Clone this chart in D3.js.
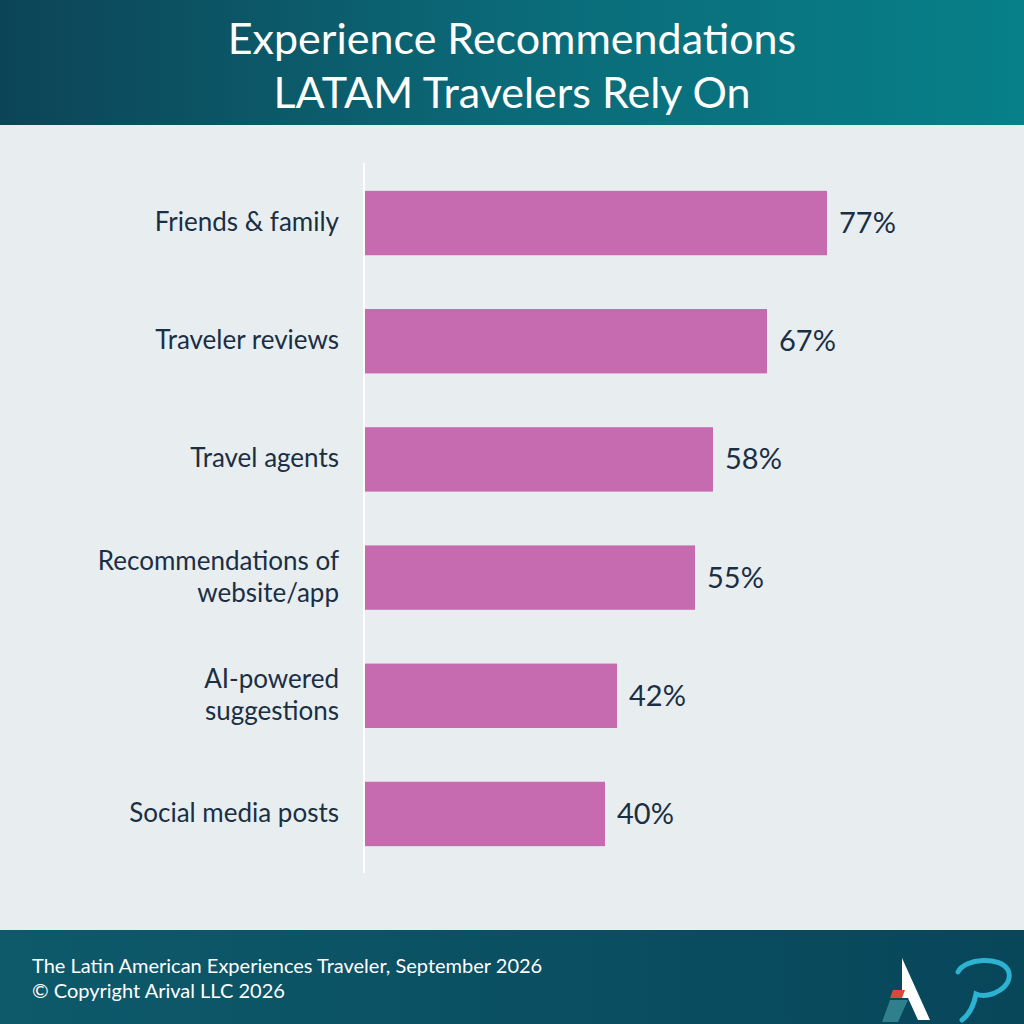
<!DOCTYPE html>
<meta charset="utf-8">
<style>
  body { margin: 0; }
  text { font-family: Lato, sans-serif; }
</style>
<body>
<script src="https://d3js.org/d3.v7.min.js"></script>
<script>
  // Data
  var categories = [["Friends & family"], ["Traveler reviews"], ["Travel agents"],
    ["Recommendations of", "website/app"], ["AI-powered", "suggestions"], ["Social media posts"]];
  var values = [77, 67, 58, 55, 42, 40];
  var titleLines = ["Experience Recommendations", "LATAM Travelers Rely On"];
  var footerLines = ["The Latin American Experiences Traveler, September 2026", "\u00a9 Copyright Arival LLC 2026"];

  var W = 1024, H = 1024;
  var svg = d3.select("body").append("svg").attr("width", W).attr("height", H);

  var defs = svg.append("defs");
  var grad = defs.append("linearGradient").attr("id", "hdr");
  grad.append("stop").attr("offset", "0%").attr("stop-color", "#0c4457");
  grad.append("stop").attr("offset", "50%").attr("stop-color", "#0b6a78");
  grad.append("stop").attr("offset", "100%").attr("stop-color", "#078088");
  var grad2 = defs.append("linearGradient").attr("id", "ftr");
  grad2.append("stop").attr("offset", "0%").attr("stop-color", "#0d5a6b");
  grad2.append("stop").attr("offset", "100%").attr("stop-color", "#08465a");

  svg.append("rect").attr("width", W).attr("height", H).attr("fill", "#e8eef0");
  svg.append("rect").attr("width", W).attr("height", 125).attr("fill", "url(#hdr)");
  svg.append("rect").attr("y", 930).attr("width", W).attr("height", 94).attr("fill", "url(#ftr)");

  svg.selectAll(".title").data(titleLines).enter().append("text")
    .attr("x", 512).attr("y", (d, i) => 54 + i * 54)
    .attr("text-anchor", "middle").attr("fill", "#fff").attr("font-size", 43)
    .text(d => d);

  var x = d3.scaleLinear().domain([0, 100]).range([365, 965]);
  var y = d3.scaleBand().domain(d3.range(values.length)).range([164, 873]).paddingInner(0.455).paddingOuter(0.227);

  svg.append("line").attr("x1", 364).attr("x2", 364).attr("y1", 163).attr("y2", 873)
    .attr("stroke", "#fff").attr("stroke-width", 2);

  svg.selectAll(".bar").data(values).enter().append("rect")
    .attr("x", x(0)).attr("y", (d, i) => y(i))
    .attr("width", d => x(d) - x(0)).attr("height", y.bandwidth())
    .attr("fill", "#c76bb0");

  svg.selectAll(".val").data(values).enter().append("text")
    .attr("x", d => x(d) + 12).attr("y", (d, i) => y(i) + y.bandwidth() / 2 + 10)
    .attr("fill", "#1b2f44").attr("font-size", 29).text(d => d + "%");

  var lab = svg.selectAll(".lab").data(categories).enter().append("text")
    .attr("text-anchor", "end").attr("fill", "#1b2f44").attr("font-size", 26);
  lab.each(function (d, i) {
    var cy = y(i) + y.bandwidth() / 2;
    d.forEach(function (line, j) {
      d3.select(this).append("tspan").attr("x", 339)
        .attr("y", cy + 8 + (j - (d.length - 1) / 2) * 32).text(line);
    }, this);
  });

  svg.selectAll(".foot").data(footerLines).enter().append("text")
    .attr("x", 32).attr("y", (d, i) => 973 + i * 25)
    .attr("fill", "#fff").attr("font-size", 20).text(d => d);

  // logos
  var lg = svg.append("g").attr("transform", "translate(880,950)");
  lg.append("path").attr("d", "M22,8 L50,70 L38,70 L28,48 L22,48 Z").attr("fill", "#fff");
  lg.append("path").attr("d", "M13,40 L25,40 L22,48 L10,48 Z").attr("fill", "#e0443e");
  lg.append("path").attr("d", "M10,50 L28,50 L18,72 L2,72 Z").attr("fill", "#2f7f8c");
  lg.append("path").attr("d", "M78,22 C85,8 120,6 128,20 C135,36 110,50 96,44 C94,55 90,64 82,70")
    .attr("fill", "none").attr("stroke", "#2bb3d1").attr("stroke-width", 5).attr("stroke-linecap", "round");
</script>
</body>
